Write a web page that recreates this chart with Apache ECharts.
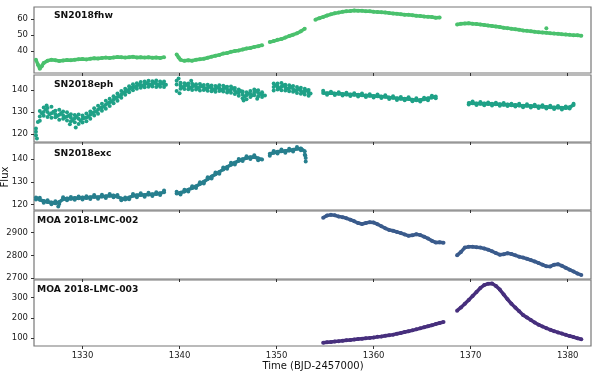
<!DOCTYPE html>
<html>
<head>
<meta charset="utf-8">
<script src="https://cdn.jsdelivr.net/npm/echarts@6/dist/echarts.min.js"></script>
<style>
  html, body { margin: 0; padding: 0; background: #fff; }
  #main { width: 598px; height: 377px; }
</style>
</head>
<body>
<div id="main"></div>
<script>
// time stamps of each orbit (BJD-2457000)
var tO1 = [1325.2,1325.6,1326.0,1326.4,1326.8,1327.2,1327.6,1328.0,1328.4,1328.8,1329.2,1329.6,1330.0,1330.4,1330.8,1331.2,1331.6,1332.0,1332.4,1332.8,1333.2,1333.6,1334.0,1334.4,1334.8,1335.2,1335.6,1336.0,1336.4,1336.8,1337.2,1337.6,1338.0,1338.4];
var tO2 = [1339.7,1340.1,1340.5,1340.9,1341.3,1341.7,1342.1,1342.5,1342.9,1343.3,1343.7,1344.1,1344.5,1344.9,1345.3,1345.7,1346.1,1346.5,1346.9,1347.3,1347.7,1348.1,1348.5,1348.9,1349.3,1349.7,1350.1,1350.5,1350.9,1351.3,1351.7,1352.1,1352.5,1352.9,1353.3];
var tO3 = [1354.0,1354.4,1354.8,1355.2,1355.6,1356.0,1356.4,1356.8,1357.2,1357.6,1358.0,1358.4,1358.8,1359.2,1359.6,1360.0,1360.4,1360.8,1361.2,1361.6,1362.0,1362.4,1362.8,1363.2,1363.6,1364.0,1364.4,1364.8,1365.2,1365.6,1366.0,1366.4,1366.8,1367.2];
var tO4 = [1368.6,1369.0,1369.4,1369.8,1370.2,1370.6,1371.0,1371.4,1371.8,1372.2,1372.6,1373.0,1373.4,1373.8,1374.2,1374.6,1375.0,1375.4,1375.8,1376.2,1376.6,1377.0,1377.4,1377.8,1378.2,1378.6,1379.0,1379.4,1379.8,1380.2,1380.6,1381.0,1381.4];

// SN2018fhw
var fhwO1 = [34.5,29.0,32.5,34.0,34.6,34.2,33.8,34.1,34.4,34.2,34.6,34.9,35.1,34.8,35.2,35.5,35.3,35.6,35.9,35.7,36.0,36.3,36.1,35.9,36.2,36.4,36.0,36.2,35.9,36.1,35.8,36.0,35.7,36.2];
var fhwO2 = [37.8,34.5,33.9,34.3,34.0,34.6,34.9,35.2,35.8,36.5,37.1,37.6,38.4,38.8,39.5,40.0,40.4,41.0,41.6,41.9,42.6,43.0,43.7,null,45.6,46.2,47.0,47.5,48.4,49.4,50.2,51.1,52.3,54.0,null];
var fhwO3 = [59.6,60.5,61.3,62.2,62.9,63.6,64.0,64.5,64.8,65.0,65.3,65.1,65.2,64.9,64.8,64.5,64.4,64.2,64.0,63.7,63.5,63.3,63.0,62.7,62.6,62.3,62.0,61.9,61.6,61.4,61.2,60.8,60.9,null];
var fhwO4 = [56.6,57.0,57.2,57.4,57.1,56.9,56.6,56.3,55.9,55.6,55.3,55.0,54.6,54.3,53.9,53.6,53.3,52.9,52.6,52.3,52.0,51.8,51.6,51.4,51.1,50.9,50.8,50.5,50.3,50.1,49.9,49.8,49.6];
var fhwExtra = [[1325.4,31.5],[1325.8,30.5],[1339.9,36.0],[1377.8,54.3]];

// SN2018eph (trend plus scatter above / below)
var ephO1 = [121.0,128.0,130.0,130.0,129.5,129.0,128.8,128.5,128.0,127.5,127.2,127.0,127.0,127.5,128.8,130.0,131.0,132.2,133.3,134.4,135.6,136.8,138.0,139.2,140.3,141.2,141.8,142.2,142.5,142.7,142.8,142.8,142.7,142.6];
var ephO1a = [122.5,130.5,132.0,131.8,132.4,130.6,131.0,130.2,129.9,129.0,128.6,128.9,128.4,129.3,130.2,131.7,132.9,133.8,135.1,136.0,137.2,138.4,139.5,140.6,141.7,142.6,143.1,143.6,143.9,144.2,144.0,144.3,143.9,143.8];
var ephO1b = [119.5,126.0,128.3,127.8,127.4,127.6,126.5,126.9,126.2,125.8,125.4,124.6,125.3,125.8,127.0,128.4,129.2,130.6,131.5,132.7,134.0,135.1,136.5,137.8,139.0,139.9,140.6,141.0,141.2,141.5,141.6,141.4,141.5,141.3];
var ephO2 = [142.5,142.0,141.8,141.7,141.5,141.5,141.3,141.2,141.0,140.8,140.5,140.8,140.6,140.2,140.2,139.6,138.8,138.0,137.6,138.2,138.9,138.6,138.0,null,null,141.4,141.6,141.5,141.2,140.8,140.5,140.0,139.6,139.4,138.8];
var ephO2a = [144.2,143.3,143.1,142.9,142.8,142.6,142.7,142.3,142.4,142.0,141.8,142.1,141.9,141.5,141.6,140.9,140.2,139.3,139.0,139.5,140.2,139.9,139.0,null,null,143.0,142.9,143.2,142.4,142.1,141.8,141.3,141.0,140.6,140.0];
var ephO2b = [139.5,140.6,140.4,140.3,140.0,140.2,139.8,140.0,139.6,139.4,139.2,139.5,139.3,138.9,138.8,138.2,137.4,136.2,135.8,136.8,137.6,137.1,136.8,null,null,139.8,140.2,139.9,139.8,139.4,139.2,138.6,138.3,138.0,137.4];
var ephO3 = [null,null,138.6,138.5,138.6,138.4,138.3,138.2,138.0,138.0,137.8,137.8,137.6,137.5,137.4,137.3,137.2,137.0,136.9,136.6,136.5,136.2,136.0,136.0,135.9,135.6,135.4,135.5,135.8,136.2,136.6,137.0,null,null];
var ephO3n = [null,null,139.7,137.8,139.2,137.7,139.0,137.5,138.8,137.3,138.5,137.0,138.4,136.8,138.1,136.6,137.9,136.4,137.6,135.9,137.2,135.5,136.8,135.3,136.7,134.9,136.2,134.8,136.5,135.4,137.4,136.3,null,null];
var ephO4 = [null,null,null,134.1,134.0,133.9,133.8,133.9,133.6,133.7,133.5,133.5,133.3,133.4,133.1,133.2,133.0,132.9,132.8,132.7,132.6,132.5,132.4,132.3,132.2,132.1,132.0,131.9,131.8,132.2,133.2,null,null];
var ephO4n = [null,null,null,133.4,134.8,133.2,134.5,133.1,134.3,133.0,134.2,132.8,134.1,132.7,133.8,132.5,133.7,132.2,133.5,132.0,133.3,131.8,133.1,131.6,132.9,131.4,132.7,131.2,132.5,131.6,133.8,null,null];
var ephMid = [[1325.3,118.0],[1325.4,125.5],[1325.8,129.5],[1326.2,131.2],[1326.3,133.0],[1326.6,129.0],[1327.0,130.1],[1327.4,128.2],[1327.8,129.6],[1328.2,127.6],[1328.6,128.4],[1328.7,124.5],[1329.0,126.4],[1329.3,123.0],[1329.4,127.9],[1329.8,126.0],[1330.2,127.3],[1330.6,128.0],[1331.0,129.6],[1331.4,130.2],[1331.8,131.8],[1332.2,132.5],[1332.6,134.0],[1333.0,134.9],[1333.4,136.4],[1333.8,137.2],[1334.2,138.8],[1334.6,139.6],[1335.0,141.0],[1335.4,141.3],[1335.8,142.4],[1336.2,142.0],[1336.6,143.1],[1337.0,142.4],[1337.4,143.3],[1337.8,142.3],[1338.2,143.0],[1338.6,142.4],
  [1339.9,145.2],[1340.0,138.5],[1340.3,141.2],[1340.7,142.5],[1341.1,141.0],[1341.2,144.2],[1341.5,142.0],[1341.9,140.9],[1342.3,141.8],[1342.7,140.6],[1343.1,141.5],[1343.5,140.2],[1343.9,141.1],[1344.3,140.0],[1344.7,141.2],[1345.1,139.8],[1345.5,140.8],[1345.9,139.0],[1346.3,139.5],[1346.6,135.2],[1346.7,137.0],[1347.1,138.3],[1347.5,137.6],[1347.9,139.5],[1348.0,136.0],[1348.3,138.2],[1348.8,137.5],[1349.9,142.0],[1350.3,140.8],[1350.7,142.1],[1351.1,140.6],[1351.5,141.3],[1351.9,139.8],[1352.3,140.4],[1352.7,139.0],[1353.1,139.8],[1353.5,138.4]];

// SN2018exc
var excO1 = [123.0,122.0,121.5,121.0,120.8,120.5,121.0,122.3,122.6,122.5,122.8,122.7,123.0,122.8,123.2,123.4,123.2,123.5,123.6,123.8,123.9,123.4,122.6,122.2,123.0,123.8,124.0,124.1,124.2,124.4,124.5,124.6,124.9,125.4];
var excO1n = [122.2,122.9,120.7,121.8,120.0,121.4,120.2,123.1,121.8,123.3,122.0,123.5,122.2,123.6,122.4,124.2,122.5,124.3,122.8,124.6,123.1,124.2,121.8,123.0,122.3,124.6,123.2,124.9,123.4,125.2,123.7,125.4,124.1,126.1];
var excO2 = [124.8,125.2,125.7,126.5,127.2,128.0,129.0,130.0,131.2,132.3,133.3,134.4,135.5,136.6,137.6,138.5,139.3,140.0,140.5,140.9,141.0,140.4,139.9,null,142.4,142.9,143.3,143.5,143.7,143.9,144.2,144.6,144.8,143.5,null];
var excO2n = [125.6,124.4,126.5,125.7,128.0,127.2,129.8,129.2,132.0,131.5,134.1,133.6,136.3,135.8,138.4,137.7,140.1,139.2,141.3,140.1,141.8,139.6,null,null,141.6,143.7,142.5,144.3,142.9,144.7,143.4,145.4,144.0,142.0,null];
var excExtra = [[1327.5,119.0],[1352.95,141.8],[1353.0,140.5],[1353.0,139.0]];

// MOA 2018-LMC-002
var lmc2O3 = [null,null,2965,2975,2978,2976,2971,2968,2963,2957,2950,2942,2938,2942,2946,2944,2937,2928,2919,2912,2908,2903,2898,2892,2886,2888,2893,2889,2882,2874,2864,2857,2858,2855];
var lmc2O4 = [2800,2815,2834,2838,2838,2836,2834,2830,2825,2818,2810,2803,2805,2809,2806,2800,2794,2790,2785,2779,2773,2766,2759,2752,2751,2759,2761,2754,2745,2737,2729,2720,2714];

// MOA 2018-LMC-003
var lmc3O3 = [null,null,78,80,82,84,86,88,90,92,94,96,98,100,102,104,107,109,112,115,118,122,126,131,135,139,144,149,154,159,164,170,175,180];
var lmc3O4 = [236,252,270,289,308,328,348,362,369,370,358,340,316,292,270,251,233,215,202,190,178,167,158,150,142,135,129,123,117,111,106,100,95];

var names = ['SN2018fhw', 'SN2018eph', 'SN2018exc', 'MOA 2018-LMC-002', 'MOA 2018-LMC-003'];
var colors = ['#4ac16d', '#1fa187', '#277f8e', '#3a5b8c', '#472f7d'];
var xTicks = [1330, 1340, 1350, 1360, 1370, 1380];
var yTicks = [[40, 50, 60], [120, 130, 140], [120, 130, 140], [2700, 2800, 2900], [100, 200, 300]];
var yRange = [[26.3, 67.5], [116.4, 146.8], [117.5, 147.2], [2696, 2995], [62, 387]];

var panelTop = [7, 75, 143, 211, 280];
var panelH = [66, 67, 67, 68, 66];
var labelX = [54, 54, 54, 37, 37];
var labelY = [17.5, 86.5, 155, 222, 291];

function linePairs(times, vals) {
  var out = [];
  for (var i = 0; i < times.length; i++) {
    out.push([times[i], vals[i] == null ? '-' : vals[i]]);
  }
  return out;
}
function dotPairs(times, vals) {
  var out = [];
  for (var i = 0; i < times.length; i++) {
    if (vals[i] != null) out.push([times[i], vals[i]]);
  }
  return out;
}
function plain(v) { return String(v); }

var series = [];
function addLine(i, times, vals) {
  series.push({
    type: 'line', xAxisIndex: i, yAxisIndex: i, data: linePairs(times, vals),
    symbol: 'circle', symbolSize: 4, showSymbol: true, showAllSymbol: true,
    lineStyle: { width: 3.5, color: colors[i] },
    itemStyle: { color: colors[i], borderWidth: 0, opacity: 1 },
    silent: true, animation: false
  });
}
function addDots(i, data) {
  series.push({
    type: 'scatter', xAxisIndex: i, yAxisIndex: i, data: data,
    symbol: 'circle', symbolSize: 4,
    itemStyle: { color: colors[i], borderWidth: 0, opacity: 1 },
    silent: true, animation: false
  });
}

addLine(0, tO1, fhwO1); addLine(0, tO2, fhwO2); addLine(0, tO3, fhwO3); addLine(0, tO4, fhwO4);
addDots(0, fhwExtra);

addDots(1, dotPairs(tO1, ephO1)); addDots(1, dotPairs(tO1, ephO1a)); addDots(1, dotPairs(tO1, ephO1b));
addDots(1, dotPairs(tO2, ephO2)); addDots(1, dotPairs(tO2, ephO2a)); addDots(1, dotPairs(tO2, ephO2b));
addDots(1, ephMid);
addLine(1, tO3, ephO3); addDots(1, dotPairs(tO3, ephO3n));
addLine(1, tO4, ephO4); addDots(1, dotPairs(tO4, ephO4n));

addLine(2, tO1, excO1); addDots(2, dotPairs(tO1, excO1n));
addLine(2, tO2, excO2); addDots(2, dotPairs(tO2, excO2n));
addDots(2, excExtra);

addLine(3, tO3, lmc2O3); addLine(3, tO4, lmc2O4);
addLine(4, tO3, lmc3O3); addLine(4, tO4, lmc3O4);

var grids = [], xAxes = [], yAxes = [], graphics = [];
for (var i = 0; i < 5; i++) {
  grids.push({ left: 34, width: 557, top: panelTop[i], height: panelH[i], show: true, borderColor: '#777', borderWidth: 1.2, backgroundColor: '#fff' });
  xAxes.push({
    type: 'value', gridIndex: i, min: 1325, max: 1382.4,
    axisLine: { show: false },
    axisTick: { show: true, length: 3, customValues: xTicks, lineStyle: { color: '#333' } },
    axisLabel: { show: i === 4, customValues: xTicks, formatter: plain, fontSize: 8.5, color: '#222', margin: 5, fontFamily: 'DejaVu Sans' },
    splitLine: { show: false }
  });
  yAxes.push({
    type: 'value', gridIndex: i, min: yRange[i][0], max: yRange[i][1],
    axisLine: { show: false },
    axisTick: { show: true, length: 3, customValues: yTicks[i], lineStyle: { color: '#333' } },
    axisLabel: { customValues: yTicks[i], formatter: plain, fontSize: 8.5, color: '#222', margin: 6, fontFamily: 'DejaVu Sans' },
    splitLine: { show: false }
  });
  graphics.push({
    type: 'text', left: labelX[i], top: labelY[i] - 6,
    style: { text: names[i], font: 'bold 9.2px "DejaVu Sans"', fill: '#111' }
  });
}
graphics.push({
  type: 'text', x: 5, y: 177, rotation: Math.PI / 2,
  style: { text: 'Flux', font: '10px "DejaVu Sans"', fill: '#111', textAlign: 'center', textVerticalAlign: 'middle' }
});
graphics.push({
  type: 'text', x: 313, y: 366.5,
  style: { text: 'Time (BJD-2457000)', font: '10px "DejaVu Sans"', fill: '#111', textAlign: 'center', textVerticalAlign: 'middle' }
});

var chart = echarts.init(document.getElementById('main'));
chart.setOption({
  animation: false,
  grid: grids,
  xAxis: xAxes,
  yAxis: yAxes,
  series: series,
  graphic: graphics
});
</script>
</body>
</html>
